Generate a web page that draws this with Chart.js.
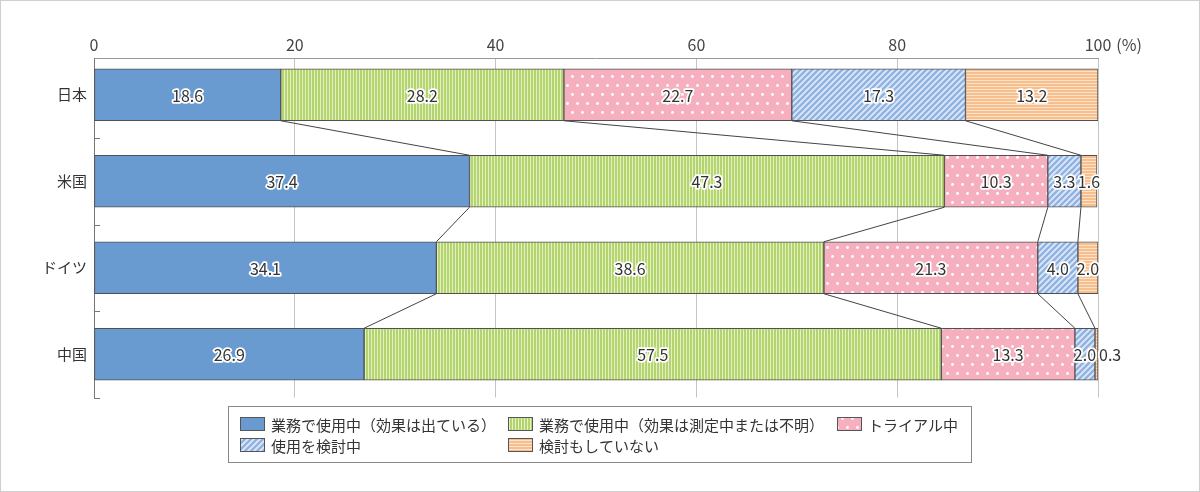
<!DOCTYPE html>
<html><head><meta charset="utf-8">
<script src="https://cdn.jsdelivr.net/npm/chart.js@4/dist/chart.umd.min.js"></script>
<style>html,body{margin:0;padding:0;background:#fff;}#wrap{width:1200px;height:492px;position:relative;}</style>
</head><body><div id="wrap"><canvas id="c" width="1200" height="492"></canvas></div>
<script>
// ---- data ----
const categories = ['日本', '米国', 'ドイツ', '中国'];
const seriesNames = ['業務で使用中（効果は出ている）', '業務で使用中（効果は測定中または不明）', 'トライアル中', '使用を検討中', '検討もしていない'];
const usingEffective = [18.6, 37.4, 34.1, 26.9];
const usingUnknown = [28.2, 47.3, 38.6, 57.5];
const trial = [22.7, 10.3, 21.3, 13.3];
const considering = [17.3, 3.3, 4.0, 2.0];
const notConsidering = [13.2, 1.6, 2.0, 0.3];
const xTickValues = [0, 20, 40, 60, 80, 100];
const xUnit = '(%)';

const FONT = "'Noto Sans CJK JP', 'Noto Sans', sans-serif";
Chart.defaults.font.family = FONT;

function makePattern(w, h, draw) {
  const c = document.createElement('canvas');
  c.width = w; c.height = h;
  const g = c.getContext('2d');
  draw(g, w, h);
  return document.getElementById('c').getContext('2d').createPattern(c, 'repeat');
}
const fillBlue = '#699bd1';
const fillGreen = makePattern(3, 4, (g, w, h) => {
  g.fillStyle = '#b4d46e'; g.fillRect(0, 0, w, h);
  g.fillStyle = '#e3efc4'; g.fillRect(2, 0, 1, h);
});
const fillPink = makePattern(10, 18, (g, w, h) => {
  g.fillStyle = '#f5afbe'; g.fillRect(0, 0, w, h);
  g.fillStyle = '#ffffff';
  g.beginPath(); g.arc(2.5, 4.5, 1.4, 0, Math.PI * 2); g.fill();
  g.beginPath(); g.arc(7.5, 13.5, 1.4, 0, Math.PI * 2); g.fill();
});
const fillHatch = makePattern(6, 6, (g, w, h) => {
  g.fillStyle = '#dde8f7'; g.fillRect(0, 0, w, h);
  g.strokeStyle = '#8fb2e2'; g.lineWidth = 2.3;
  [[-3, 3, 3, -3], [0, 6, 6, 0], [3, 9, 9, 3]].forEach(l => {
    g.beginPath(); g.moveTo(l[0], l[1]); g.lineTo(l[2], l[3]); g.stroke();
  });
});
const fillOrange = makePattern(4, 3, (g, w, h) => {
  g.fillStyle = '#f8bf8e'; g.fillRect(0, 0, w, h);
  g.fillStyle = '#fde3ca'; g.fillRect(0, 2, w, 1);
});
const fills = [fillBlue, fillGreen, fillPink, fillHatch, fillOrange];
const seriesValues = [usingEffective, usingUnknown, trial, considering, notConsidering];

const datasets = seriesValues.map((vals, k) => ({
  label: seriesNames[k],
  data: vals.map((v, i) => ({ x: v, y: i })),
  backgroundColor: fills[k],
  borderColor: '#505050',
  borderWidth: 1,
  borderSkipped: false,
  barThickness: 52
}));

const overlay = {
  id: 'overlay',
  beforeDraw(chart) {
    const ctx = chart.ctx;
    ctx.save();
    ctx.fillStyle = '#fff'; ctx.fillRect(0, 0, chart.width, chart.height);
    ctx.strokeStyle = '#cfcfcf'; ctx.lineWidth = 1;
    ctx.strokeRect(0.5, 0.5, chart.width - 1, chart.height - 1);
    ctx.restore();
  },
  afterDatasetsDraw(chart) {
    const ctx = chart.ctx;
    const metas = chart.data.datasets.map((d, k) => chart.getDatasetMeta(k));
    ctx.save();
    // connector lines
    ctx.strokeStyle = '#444'; ctx.lineWidth = 1;
    for (let k = 0; k < metas.length - 1; k++) {
      const els = metas[k].data;
      for (let i = 0; i < els.length - 1; i++) {
        const a = els[i].getProps(['x', 'y', 'height'], true);
        const b = els[i + 1].getProps(['x', 'y', 'height'], true);
        ctx.beginPath();
        ctx.moveTo(a.x, a.y + a.height / 2);
        ctx.lineTo(b.x, b.y - b.height / 2);
        ctx.stroke();
      }
    }
    // value labels
    ctx.font = '16px ' + FONT;
    ctx.textBaseline = 'middle';
    ctx.lineJoin = 'round';
    metas.forEach((m, k) => {
      m.data.forEach((el, i) => {
        const p = el.getProps(['x', 'y', 'base'], true);
        const v = seriesValues[k][i];
        const txt = v.toFixed(1);
        let tx, align;
        if (v < 1) { tx = p.x + 1; align = 'left'; }
        else { tx = (p.x + p.base) / 2; align = 'center'; }
        ctx.textAlign = align;
        ctx.strokeStyle = '#fff'; ctx.lineWidth = 3.5;
        ctx.strokeText(txt, tx, p.y + 1);
        ctx.fillStyle = '#333';
        ctx.fillText(txt, tx, p.y + 1);
      });
    });
    ctx.restore();
  },
  afterDraw(chart) {
    const ctx = chart.ctx;
    const ys = chart.scales.y, xs = chart.scales.x;
    ctx.save();
    // inward tick marks at category boundaries
    ctx.strokeStyle = '#777'; ctx.lineWidth = 1;
    categories.forEach((c, i) => {
      const py = Math.round(ys.getPixelForValue(i + 0.5)) + 0.5;
      ctx.beginPath(); ctx.moveTo(ys.right, py); ctx.lineTo(ys.right + 6, py); ctx.stroke();
    });
    // unit label next to last tick
    ctx.font = '16px ' + FONT;
    ctx.fillStyle = '#444';
    ctx.textBaseline = 'middle'; ctx.textAlign = 'left';
    const last = xTickValues[xTickValues.length - 1];
    const w = ctx.measureText(String(last)).width;
    ctx.fillText(xUnit, xs.getPixelForValue(last) + w / 2 + 5, xs.bottom - 3 - 9.6);
    // legend
    ctx.strokeStyle = '#888';
    ctx.strokeRect(228.5, 406.5, 743, 56);
    const pos = [[240, 424], [508, 424], [837, 424], [240, 445], [508, 445]];
    ctx.font = '15px ' + FONT;
    seriesNames.forEach((name, k) => {
      const [lx, ly] = pos[k];
      ctx.fillStyle = fills[k];
      ctx.fillRect(lx, ly - 7, 25, 14);
      ctx.strokeStyle = '#555';
      ctx.strokeRect(lx + 0.5, ly - 6.5, 24, 13);
      ctx.fillStyle = '#333';
      ctx.fillText(name, lx + 31, ly + 1);
    });
    ctx.restore();
  }
};

new Chart(document.getElementById('c'), {
  type: 'bar',
  data: { datasets },
  plugins: [overlay],
  options: {
    indexAxis: 'y',
    responsive: false,
    animation: false,
    devicePixelRatio: 1,
    layout: { padding: { left: 0, top: 0, right: 102, bottom: 94.5 } },
    plugins: { legend: { display: false }, tooltip: { enabled: false } },
    scales: {
      x: {
        type: 'linear', position: 'top', min: 0, max: 100, stacked: true,
        afterBuildTicks: s => { s.ticks = xTickValues.map(v => ({ value: v })); },
        afterFit: s => { s.height = 58; },
        ticks: { font: { size: 16 }, color: '#444', padding: 3 },
        grid: { color: c => (c.tick && c.tick.value === 0) ? 'rgba(0,0,0,0)' : '#c4c4c4', drawTicks: false },
        border: { color: '#9a9a9a' }
      },
      y: {
        type: 'linear', reverse: true, min: -0.425, max: 3.5, stacked: true, offset: false,
        afterBuildTicks: s => { s.ticks = categories.map((c, i) => ({ value: i })); },
        afterFit: s => { s.width = 94; },
        ticks: { callback: v => categories[v] ?? '', font: { size: 15 }, color: '#333', padding: 7, autoSkip: false },
        grid: { drawOnChartArea: false, drawTicks: false, offset: false },
        border: { color: '#777' }
      }
    }
  }
});
</script></body></html>
